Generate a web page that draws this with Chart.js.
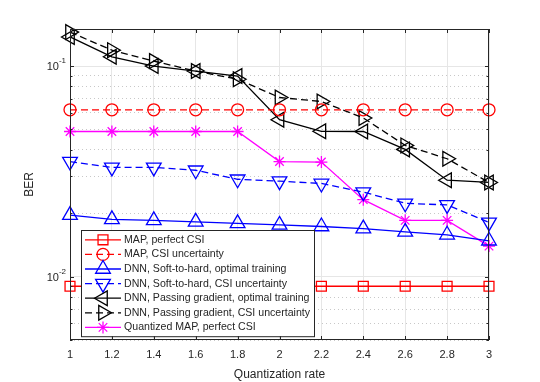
<!DOCTYPE html>
<html>
<head>
<meta charset="utf-8">
<script src="https://cdn.jsdelivr.net/npm/chart.js@4/dist/chart.umd.min.js"></script>
<style>
  html, body { margin: 0; padding: 0; background: #fff; }
  #wrap { width: 540px; height: 382px; }
</style>
</head>
<body>
<div id="wrap"><canvas id="grafica" width="540" height="382"></canvas></div>
<script>
// datos
const rates = [1, 1.2, 1.4, 1.6, 1.8, 2, 2.2, 2.4, 2.6, 2.8, 3];
const mapPerfect = [0.009, 0.009, 0.009, 0.009, 0.009, 0.009, 0.009, 0.009, 0.009, 0.009, 0.009];
const mapUncert = [0.062, 0.062, 0.062, 0.062, 0.062, 0.062, 0.062, 0.062, 0.062, 0.062, 0.062];
const s2hOptimal = [0.0196, 0.0187, 0.0185, 0.0182, 0.0179, 0.0176, 0.0173, 0.0169, 0.0163, 0.0158, 0.0148];
const s2hUncert = [0.0352, 0.033, 0.033, 0.032, 0.029, 0.0284, 0.0277, 0.0252, 0.0223, 0.0219, 0.0181];
const pgOptimal = [0.1375, 0.1107, 0.1, 0.0947, 0.0897, 0.0556, 0.049, 0.0489, 0.0402, 0.0287, 0.028];
const pgUncert = [0.145, 0.119, 0.1056, 0.0947, 0.0866, 0.0709, 0.0679, 0.0567, 0.042, 0.0363, 0.028];
const quantMap = [0.0489, 0.0489, 0.0489, 0.0489, 0.0489, 0.0352, 0.035, 0.0232, 0.0185, 0.0185, 0.01396];
const xTicks = [1, 1.2, 1.4, 1.6, 1.8, 2, 2.2, 2.4, 2.6, 2.8, 3];
const yTicks = [0.005, 0.006, 0.007, 0.008, 0.009, 0.01, 0.02, 0.03, 0.04, 0.05, 0.06, 0.07, 0.08, 0.09, 0.1];
const yLabels = [{ v: 0.1, exp: '-1' }, { v: 0.01, exp: '-2' }];

const FONT = '"Liberation Sans", Arial, sans-serif';
const AXIS = '#262626';
const DASH = [7, 4];

function serie(label, data, color, style, rot, radius, dashed) {
    return {
        label: label,
        data: data.map((y, i) => ({ x: rates[i], y: y })),
        borderColor: color,
        backgroundColor: 'rgba(0,0,0,0)',
        borderWidth: 1.3,
        borderDash: dashed ? DASH : [],
        pointStyle: style,
        rotation: rot,
        pointRadius: radius,
        pointBorderWidth: 1.3,
        pointBorderColor: color,
        pointBackgroundColor: 'rgba(0,0,0,0)',
        fill: false,
        clip: false,
        tension: 0
    };
}

const datasets = [
    serie('MAP, perfect CSI', mapPerfect, '#ff0000', 'rect', 0, 7, false),
    serie('MAP, CSI uncertainty', mapUncert, '#ff0000', 'circle', 0, 6, true),
    serie('DNN, Soft-to-hard, optimal training', s2hOptimal, '#0000ff', 'triangle', 0, 8.5, false),
    serie('DNN, Soft-to-hard, CSI uncertainty', s2hUncert, '#0000ff', 'triangle', 180, 8.5, true),
    serie('DNN, Passing gradient, optimal training', pgOptimal, '#000000', 'triangle', -90, 8.5, false),
    serie('DNN, Passing gradient, CSI uncertainty', pgUncert, '#000000', 'triangle', 90, 8.5, true),
    serie('Quantized MAP, perfect CSI', quantMap, '#ff00ff', 'star', 0, 6, false)
];

// marco, marcas interiores, etiquetas 10^x, titulo Y y leyenda
const estiloMatlab = {
    id: 'estiloMatlab',
    afterDraw(chart) {
        const ctx = chart.ctx;
        const a = chart.chartArea;
        const xs = chart.scales.x, ys = chart.scales.y;
        ctx.save();
        ctx.strokeStyle = AXIS;
        ctx.lineWidth = 1;
        ctx.setLineDash([]);
        ctx.strokeRect(a.left + 0.5, a.top + 0.5, a.right - a.left - 1, a.bottom - a.top - 1);
        ctx.beginPath();
        xTicks.forEach(v => {
            const px = Math.round(xs.getPixelForValue(v)) + 0.5;
            ctx.moveTo(px, a.bottom); ctx.lineTo(px, a.bottom - 4);
            ctx.moveTo(px, a.top); ctx.lineTo(px, a.top + 4);
        });
        yTicks.forEach(v => {
            const py = Math.round(ys.getPixelForValue(v)) + 0.5;
            const len = (v === 0.1 || v === 0.01) ? 4 : 2.5;
            ctx.moveTo(a.left, py); ctx.lineTo(a.left + len, py);
            ctx.moveTo(a.right, py); ctx.lineTo(a.right - len, py);
        });
        ctx.stroke();

        // etiquetas del eje Y
        ctx.fillStyle = AXIS;
        ctx.textBaseline = 'middle';
        yLabels.forEach(t => {
            const py = ys.getPixelForValue(t.v);
            ctx.font = '8px ' + FONT;
            const ew = ctx.measureText(t.exp).width;
            ctx.textAlign = 'right';
            ctx.fillText(t.exp, a.left - 4, py - 5);
            ctx.font = '11px ' + FONT;
            ctx.fillText('10', a.left - 4 - ew, py + 1);
        });

        // titulo Y
        ctx.save();
        ctx.translate(30, (a.top + a.bottom) / 2);
        ctx.rotate(-Math.PI / 2);
        ctx.textAlign = 'center';
        ctx.font = '12px ' + FONT;
        ctx.fillText('BER', 0, 0);
        ctx.restore();

        // leyenda
        const lx = 81, ly = 230, lw = 233, rowH = 14.6;
        ctx.fillStyle = '#ffffff';
        ctx.fillRect(lx, ly, lw, rowH * datasets.length + 4);
        ctx.strokeStyle = AXIS;
        ctx.lineWidth = 1;
        ctx.strokeRect(lx + 0.5, ly + 0.5, lw, rowH * datasets.length + 4);
        chart.data.datasets.forEach((ds, i) => {
            const cy = ly + 2 + rowH * (i + 0.5) + 0.5;
            ctx.strokeStyle = ds.borderColor;
            ctx.lineWidth = 1.3;
            ctx.setLineDash(ds.borderDash);
            ctx.beginPath();
            ctx.moveTo(lx + 4, cy); ctx.lineTo(lx + 40, cy);
            ctx.stroke();
            ctx.setLineDash([]);
            ctx.fillStyle = 'rgba(0,0,0,0)';
            ctx.strokeStyle = ds.borderColor;
            Chart.helpers.drawPoint(ctx, {
                pointStyle: ds.pointStyle, rotation: ds.rotation,
                radius: ds.pointRadius, borderWidth: 1.3
            }, lx + 22, cy);
            ctx.fillStyle = AXIS;
            ctx.font = '10.6px ' + FONT;
            ctx.textAlign = 'left';
            ctx.fillText(ds.label, lx + 43, cy);
        });
        ctx.restore();
    }
};

new Chart(document.getElementById('grafica').getContext('2d'), {
    type: 'line',
    data: { datasets: datasets },
    options: {
        responsive: false,
        animation: false,
        devicePixelRatio: 1,
        layout: { padding: { top: 29, right: 51, left: 0, bottom: 0 } },
        plugins: {
            legend: { display: false },
            tooltip: { enabled: false }
        },
        scales: {
            x: {
                type: 'linear',
                min: 1, max: 3,
                afterBuildTicks: s => { s.ticks = xTicks.map(v => ({ value: v })); },
                afterFit: s => { s.height = 42; },
                grid: { color: '#e6e6e6', drawTicks: false, lineWidth: 1 },
                border: { display: false },
                ticks: {
                    padding: 8,
                    color: AXIS,
                    font: { family: FONT, size: 11 },
                    maxRotation: 0,
                    callback: v => String(Math.round(v * 10) / 10)
                },
                title: {
                    display: true,
                    text: 'Quantization rate',
                    color: AXIS,
                    font: { family: FONT, size: 12 },
                    padding: { top: 0, bottom: 0 }
                }
            },
            y: {
                type: 'logarithmic',
                min: 0.005, max: 0.15,
                afterBuildTicks: s => { s.ticks = yTicks.map(v => ({ value: v })); },
                afterFit: s => { s.width = 70; },
                grid: {
                    drawTicks: false,
                    lineWidth: 1,
                    color: c => (c.tick && (c.tick.value === 0.1 || c.tick.value === 0.01)) ? '#e6e6e6' : '#c8c8c8'
                },
                border: {
                    display: false,
                    dash: c => (c.tick && (c.tick.value === 0.1 || c.tick.value === 0.01)) ? [] : [1, 3]
                },
                ticks: { display: false }
            }
        }
    },
    plugins: [estiloMatlab]
});
</script>
</body>
</html>
